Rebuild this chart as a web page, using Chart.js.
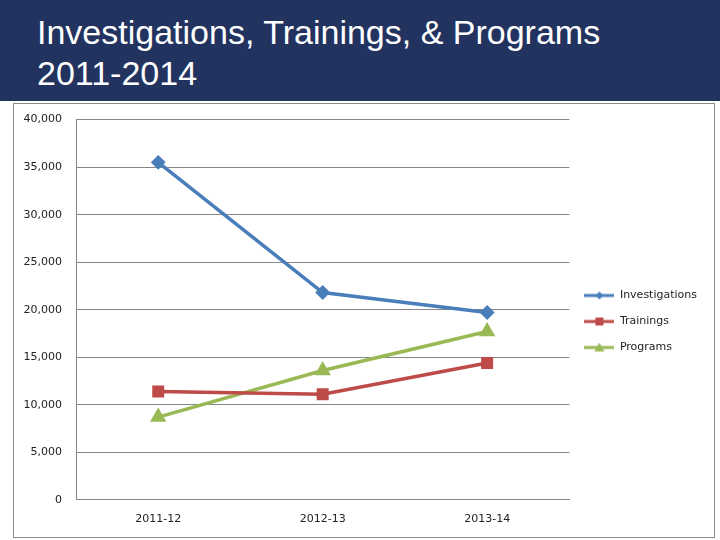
<!DOCTYPE html>
<html>
<head>
<meta charset="utf-8">
<script src="https://cdn.jsdelivr.net/npm/chart.js@4"></script>
<style>
  html, body { margin: 0; padding: 0; background: #fff; }
  body { width: 720px; height: 540px; position: relative; overflow: hidden; }
  #header {
    position: absolute; left: 0; top: 0; width: 720px; height: 101px;
    background: #22335f; color: #fff;
  }
  #header div {
    position: absolute; left: 37px; font-family: "Liberation Sans", sans-serif;
    font-size: 34px; line-height: 40px; white-space: nowrap;
  }
  #box {
    position: absolute; left: 13px; top: 103px; width: 700px; height: 433px;
    border: 1px solid #8c8c8c;
  }
  #wrap { position: absolute; left: 0; top: -5px; width: 700px; height: 440px; }
</style>
</head>
<body>
<div id="header">
  <div style="top:12px">Investigations, Trainings, &amp; Programs</div>
  <div style="top:53px">2011-2014</div>
</div>
<div id="box"><div id="wrap"><canvas id="myChart"></canvas></div></div>
<script>
const years = ['2011-12', '2012-13', '2013-14'];
const investigations = [35500, 21800, 19700];
const trainings = [11400, 11100, 14400];
const programs = [8700, 13600, 17700];
const yTicks = [0, 5000, 10000, 15000, 20000, 25000, 30000, 35000, 40000];

// little legend swatch: line with marker in the middle
function swatch(color, shape) {
    const c = document.createElement('canvas');
    c.width = 30; c.height = 10;
    const g = c.getContext('2d');
    g.strokeStyle = color; g.fillStyle = color; g.lineWidth = 3;
    g.beginPath(); g.moveTo(0, 5); g.lineTo(30, 5); g.stroke();
    g.beginPath();
    if (shape === 'rectRot') {
        g.moveTo(15, 1); g.lineTo(19, 5); g.lineTo(15, 9); g.lineTo(11, 5);
    } else if (shape === 'rect') {
        g.rect(11, 1, 8, 8);
    } else {
        g.moveTo(15, 0); g.lineTo(20, 9); g.lineTo(10, 9);
    }
    g.closePath(); g.fill();
    return c;
}

function loadChart() {
    const ctx = document.getElementById('myChart');

    new Chart(ctx, {
        type: 'line',
        data: {
            labels: years,
            datasets: [{
                label: 'Investigations',
                data: investigations,
                borderColor: '#4a7ebb',
                backgroundColor: '#4a7ebb',
                borderWidth: 3.5,
                pointStyle: 'rectRot',
                pointRadius: 5,
                legendSwatch: swatch('#4a7ebb', 'rectRot')
            },
            {
                label: 'Trainings',
                data: trainings,
                borderColor: '#be4b48',
                backgroundColor: '#be4b48',
                borderWidth: 3.5,
                pointStyle: 'rect',
                pointRadius: 6,
                legendSwatch: swatch('#be4b48', 'rect')
            },
            {
                label: 'Programs',
                data: programs,
                borderColor: '#98b954',
                backgroundColor: '#98b954',
                borderWidth: 3.5,
                pointStyle: 'triangle',
                pointRadius: 6,
                legendSwatch: swatch('#98b954', 'triangle')
            }]
        },
        options: {
            responsive: true,
            maintainAspectRatio: false,
            animation: false,
            layout: {
                padding: { top: 5, right: 7, bottom: 0, left: 0 }
            },
            plugins: {
                tooltip: { enabled: false },
                legend: {
                    position: 'right',
                    labels: {
                        usePointStyle: true,
                        pointStyleWidth: 30,
                        boxHeight: 10,
                        padding: 15,
                        color: '#222',
                        font: { family: 'DejaVu Sans', size: 11 },
                        generateLabels(chart) {
                            return chart.data.datasets.map((ds, i) => ({
                                text: ds.label,
                                fillStyle: ds.borderColor,
                                strokeStyle: ds.borderColor,
                                lineWidth: 0,
                                pointStyle: ds.legendSwatch,
                                fontColor: '#222',
                                hidden: false,
                                datasetIndex: i
                            }));
                        }
                    }
                }
            },
            scales: {
                x: {
                    offset: true,
                    grid: { display: false, drawTicks: false },
                    border: { color: '#868686', width: 1 },
                    ticks: {
                        color: '#222',
                        padding: 13,
                        font: { family: 'DejaVu Sans', size: 11 }
                    }
                },
                y: {
                    min: 0,
                    max: 40000,
                    afterBuildTicks(scale) {
                        scale.ticks = yTicks.map(v => ({ value: v }));
                    },
                    afterFit(scale) {
                        scale.width = 62;
                    },
                    grid: { color: '#868686', drawTicks: false },
                    border: { color: '#868686', width: 1 },
                    ticks: {
                        color: '#222',
                        padding: 14,
                        font: { family: 'DejaVu Sans', size: 11 },
                        callback: v => v.toLocaleString('en-US')
                    }
                }
            }
        }
    });
}

loadChart();
</script>
</body>
</html>
